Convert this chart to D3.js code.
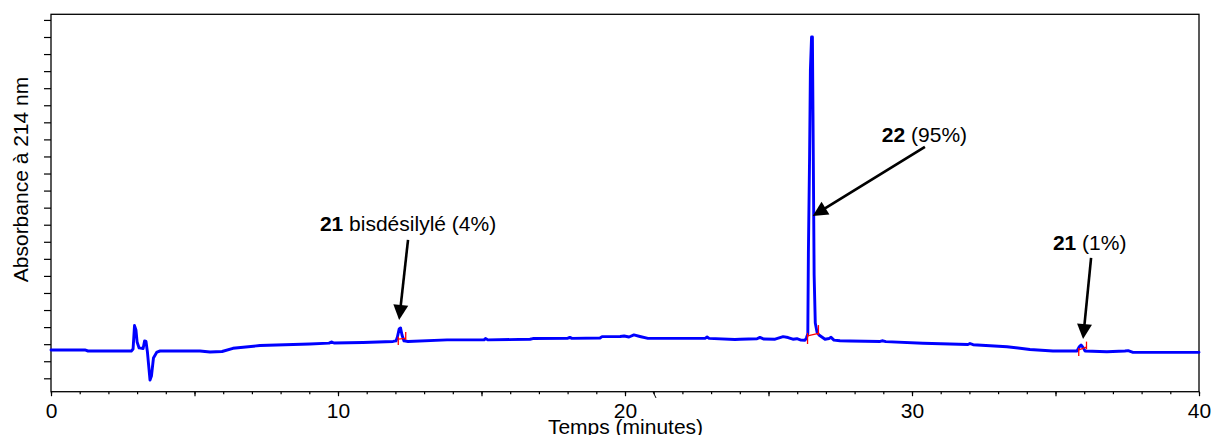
<!DOCTYPE html>
<html>
<head>
<meta charset="utf-8">
<script src="https://cdn.jsdelivr.net/npm/d3@7"></script>
<style>
  html, body { margin: 0; padding: 0; background: #fff; }
  svg { display: block; font-family: "Liberation Sans", Arial, sans-serif; }
</style>
</head>
<body>
<svg id="chart" width="1215" height="435"></svg>
<script>
// ---------- DATA ----------
// retention time (minutes)
const times = [0, 1.18, 1.29, 2.80, 2.86, 2.91, 2.96, 3.00, 3.07, 3.21, 3.26, 3.31, 3.36, 3.45, 3.50, 3.57, 3.69, 3.80,
  5.19, 5.54, 5.96, 6.34, 7.28, 9.02, 9.69, 9.77, 9.86, 10.87, 11.92, 12.02, 12.07, 12.13, 12.18, 12.23, 12.30, 12.44,
  13.80, 15.09, 15.14, 15.23, 16.69, 16.79, 18.01, 18.08, 18.15, 19.13, 19.20, 19.83, 19.97, 20.14, 20.31, 20.52, 20.80,
  22.79, 22.86, 22.93, 23.83, 24.01, 24.60, 24.70, 24.84, 25.23, 25.51, 25.68, 25.85, 25.99, 26.13, 26.27, 26.32,
  26.37, 26.39, 26.43, 26.46, 26.50, 26.53, 26.55, 26.59, 26.63, 26.69, 26.76, 26.97, 27.11, 27.18, 27.28, 27.49,
  27.84, 28.89, 28.96, 29.09, 30.38, 31.95, 32.02, 32.13, 33.31, 34.11, 34.91, 35.75, 35.82, 35.89, 35.96, 36.03,
  36.79, 37.42, 37.53, 37.70, 40.00];
// absorbance at 214 nm (mAU, relative)
const absorbance = [16.6, 16.6, 16.0, 16.0, 17.2, 30.9, 28.3, 21.3, 17.8, 17.5, 21.9, 21.6, 15.4, -1.0, 1.3, 11.9, 15.4, 16.0,
  16.0, 15.4, 15.7, 17.6, 19.2, 20.1, 20.6, 21.3, 20.7, 21.0, 21.6, 21.9, 24.2, 28.9, 29.5, 25.4, 21.9, 21.6,
  22.5, 22.5, 23.3, 22.5, 22.9, 23.3, 23.5, 24.0, 23.4, 23.6, 24.4, 24.5, 24.8, 24.2, 25.4, 24.5, 23.4,
  23.4, 24.2, 23.4, 22.7, 22.9, 23.2, 24.0, 23.0, 22.9, 24.4, 23.9, 22.9, 23.2, 22.4, 22.3, 23.6,
  26.2, 73.4, 128.0, 180.7, 200.0, 200.0, 155.5, 60.6, 32.4, 27.1, 25.4, 22.9, 23.3, 24.0, 22.4, 22.0,
  21.9, 21.6, 22.0, 21.5, 20.5, 19.8, 20.4, 19.7, 18.5, 16.9, 16.0, 16.0, 18.3, 19.5, 18.1, 16.0,
  15.6, 16.0, 16.2, 15.2, 15.2];

// integration markers (red): [t1, v1, t2, v2]
const integrationMarks = [
  [12.10, 19.5, 12.10, 24.4], [12.10, 22.9, 12.36, 23.4], [12.36, 22.4, 12.36, 27.1],
  [26.36, 20.1, 26.36, 26.6], [26.36, 24.8, 26.74, 26.3], [26.74, 25.4, 26.74, 31.2],
  [35.81, 13.1, 35.81, 17.8], [35.81, 16.6, 36.08, 18.3], [36.08, 17.0, 36.08, 21.5]
];

// annotations
const annBold = ["21", "22", "21"];
const annText = [" bisdésilylé (4%)", " (95%)", " (1%)"];
const annTextPos = [[9.37, 86.3], [28.95, 138.5], [34.91, 75.2]];
const annArrowFrom = [[12.44, 81.1], [30.45, 135.6], [36.24, 70.5]];
const annArrowTo = [[12.13, 34.2], [26.54, 95.1], [35.96, 23.0]];

const xLabelTicks = [0, 10, 20, 30, 40];
const xMidTicks = [5, 15, 25, 35];
const xMinorTicks = d3.range(0, 41, 1);
const yTicks = d3.range(0, 211, 10);
const xTitle = "Temps (minutes)";
const yTitle = "Absorbance à 214 nm";
const strayMark = [[20.98, -8.0], [21.08, -11.5]];

// ---------- CHART ----------
const svg = d3.select("#chart");
const pL = 51, pR = 1199, pT = 14.3, pB = 391.7;
const x = d3.scaleLinear().domain([0, 40]).range([pL, pR]);
const y = d3.scaleLinear().domain([-7.85, 213.3]).range([pB, pT]);
const FS = 21;

const gxMinor = svg.append("g").attr("transform", `translate(0,${pB})`)
  .call(d3.axisBottom(x).tickValues(xMinorTicks).tickSize(2.5).tickFormat(""));
const gxMid = svg.append("g").attr("transform", `translate(0,${pB})`)
  .call(d3.axisBottom(x).tickValues(xMidTicks).tickSize(4.5).tickFormat(""));
const gx = svg.append("g").attr("transform", `translate(0,${pB})`)
  .call(d3.axisBottom(x).tickValues(xLabelTicks).tickSize(4.5).tickPadding(7).tickFormat(d3.format("d")));
[gxMinor, gxMid, gx].forEach(g => {
  g.select(".domain").remove();
  g.selectAll(".tick line").attr("stroke", "#000").attr("stroke-width", 1.2);
});
gx.selectAll(".tick text").attr("font-size", FS).attr("fill", "#000")
  .attr("font-family", "Liberation Sans, Arial, sans-serif").attr("dy", "0.72em");

const gy = svg.append("g").attr("transform", `translate(${pL},0)`)
  .call(d3.axisLeft(y).tickValues(yTicks).tickSize(7).tickFormat(""));
gy.select(".domain").remove();
gy.selectAll(".tick line").attr("stroke", "#000").attr("stroke-width", 1.2);

// frame
svg.append("rect").attr("x", pL).attr("y", pT)
  .attr("width", pR - pL).attr("height", pB - pT)
  .attr("fill", "none").attr("stroke", "#000").attr("stroke-width", 1.3);

// stray mark below axis
svg.append("path").datum(strayMark)
  .attr("d", d3.line().x(d => x(d[0])).y(d => y(d[1])))
  .attr("stroke", "#000").attr("stroke-width", 1).attr("fill", "none");

// signal
const data = times.map((t, i) => [t, absorbance[i]]);
svg.append("path").datum(data)
  .attr("d", d3.line().x(d => x(d[0])).y(d => y(d[1])))
  .attr("fill", "none").attr("stroke", "#0000ff").attr("stroke-width", 2.9)
  .attr("stroke-linejoin", "round").attr("stroke-linecap", "round");

// integration marks
svg.append("g").selectAll("line").data(integrationMarks).join("line")
  .attr("x1", d => x(d[0])).attr("y1", d => y(d[1]))
  .attr("x2", d => x(d[2])).attr("y2", d => y(d[3]))
  .attr("stroke", "#ff0000").attr("stroke-width", 1.3);

// annotations
const headLen = 15, headHalf = 7.5;
annBold.forEach((b, i) => {
  const [tx, ty] = annTextPos[i];
  const t = svg.append("text").attr("x", x(tx)).attr("y", y(ty))
    .attr("font-size", FS).attr("fill", "#000");
  t.append("tspan").attr("font-weight", "bold").text(b);
  t.append("tspan").text(annText[i]);

  const x1 = x(annArrowFrom[i][0]), y1 = y(annArrowFrom[i][1]);
  const x2 = x(annArrowTo[i][0]), y2 = y(annArrowTo[i][1]);
  const dx = x2 - x1, dy = y2 - y1, L = Math.hypot(dx, dy);
  const ux = dx / L, uy = dy / L;
  const bx = x2 - ux * headLen, by = y2 - uy * headLen;
  svg.append("line").attr("x1", x1).attr("y1", y1).attr("x2", bx + ux * 2).attr("y2", by + uy * 2)
    .attr("stroke", "#000").attr("stroke-width", 2.6);
  svg.append("path")
    .attr("d", `M${x2},${y2}L${bx - uy * headHalf},${by + ux * headHalf}L${bx + uy * headHalf},${by - ux * headHalf}Z`)
    .attr("fill", "#000");
});

// axis titles
svg.append("text").attr("x", (pL + pR) / 2 + 0.5).attr("y", 434)
  .attr("text-anchor", "middle").attr("font-size", FS).attr("fill", "#000").text(xTitle);
svg.append("text").attr("transform", "translate(28,179.5) rotate(-90)")
  .attr("text-anchor", "middle").attr("font-size", FS).attr("fill", "#000").text(yTitle);
</script>
</body>
</html>
